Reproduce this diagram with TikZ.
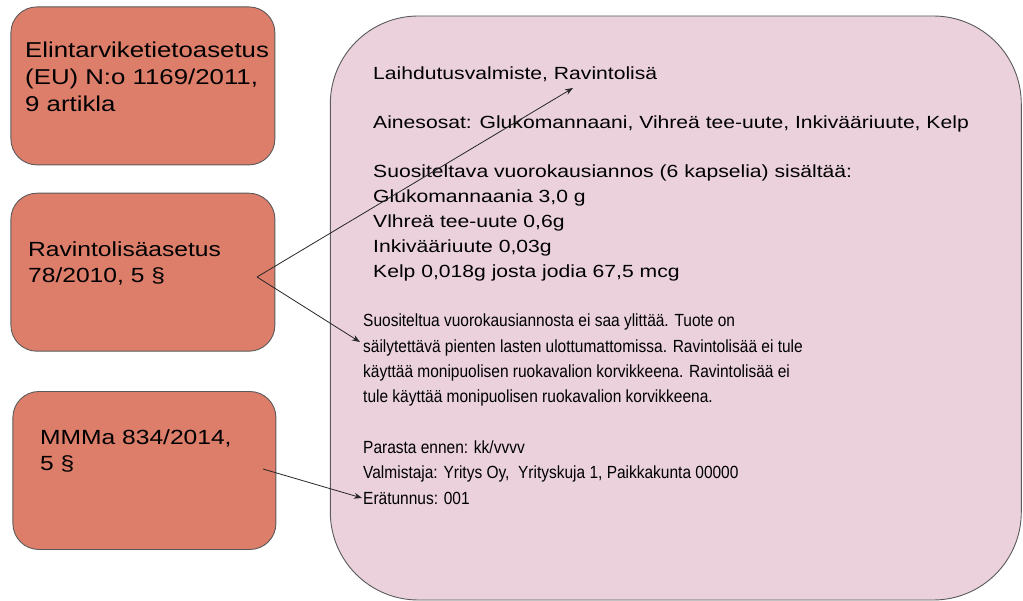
\documentclass[tikz,border=0pt]{standalone}
\usepackage{fontspec}
\setmainfont{Liberation Sans}[FakeStretch=1.2]
\newfontfamily\narrowsans{Liberation Sans}[FakeStretch=0.88]
\usetikzlibrary{arrows.meta}
\definecolor{lawred}{HTML}{DD7E6B}
\definecolor{labelpink}{HTML}{EAD1DC}
\definecolor{edgegray}{HTML}{5A5A5A}
\begin{document}
\begin{tikzpicture}[x=1pt,y=-1pt,
  lawbox/.style={draw=edgegray,fill=lawred,line width=0.9pt,rounded corners=26pt,
    minimum width=264pt,minimum height=158pt,inner sep=0pt},
  lawtext/.style={anchor=base west,align=left,inner sep=0pt,
    font=\fontsize{20.5}{26.5}\selectfont},
  labeltext/.style={anchor=base west,align=left,inner sep=0pt,
    font=\fontsize{17.6}{25.1}\selectfont},
  ref/.style={-{Stealth[length=8pt,width=6pt]},line width=0.8pt,black!85}]
\useasboundingbox (0,0) rectangle (1023,601);
\node[draw=edgegray,fill=labelpink,line width=0.9pt,rounded corners=88pt,
  minimum width=691pt,minimum height=584pt,inner sep=0pt] (label) at (675.8,308) {};
\node[lawbox] (eu) at (142.9,85.9) {};
\node[lawbox] (ravi) at (142.9,272.2) {};
\node[lawbox,minimum width=263pt] (mmm) at (144.4,470.5) {};
% text nodes sit on the baseline of their last line
\node[lawtext,font=\fontsize{21.5}{27}\selectfont] (eu-text) at (25,112)
  {Elintarviketietoasetus\\(EU) N:o 1169/2011,\\9 artikla};
\node[lawtext] (ravi-text) at (28,283) {Ravintolisäasetus\\78/2010, 5 §};
\node[lawtext] (mmm-text) at (40,471) {MMMa 834/2014,\\5 §};
\node[labeltext] (label-top) at (373,278)
  {Laihdutusvalmiste, Ravintolisä\\[24pt]
   Ainesosat: Glukomannaani, Vihreä tee-uute, Inkivääriuute, Kelp\\[24pt]
   Suositeltava vuorokausiannos (6 kapselia) sisältää:\\
   Glukomannaania 3,0 g\\
   Vlhreä tee-uute 0,6g\\
   Inkivääriuute 0,03g\\
   Kelp 0,018g josta jodia 67,5 mcg};
\node[labeltext,font=\fontsize{17.6}{25.1}\narrowsans] (label-bottom) at (363,504)
  {Suositeltua vuorokausiannosta ei saa ylittää. Tuote on\\
   säilytettävä pienten lasten ulottumattomissa. Ravintolisää ei tule\\
   käyttää monipuolisen ruokavalion korvikkeena. Ravintolisää ei\\
   tule käyttää monipuolisen ruokavalion korvikkeena.\\[26.5pt]
   Parasta ennen: kk/vvvv\\
   Valmistaja: Yritys Oy,~ Yrityskuja 1, Paikkakunta 00000\\
   Erätunnus: 001};
\coordinate (ravi-out) at (257,277);
\coordinate (mmm-out) at (263,469);
\coordinate (name-in) at (573,88);
\coordinate (warn-in) at (360,342);
\coordinate (batch-in) at (362,498);
\draw[ref] (ravi-out) -- (name-in);
\draw[ref] (ravi-out) -- (warn-in);
\draw[ref] (mmm-out) -- (batch-in);
\end{tikzpicture}
\end{document}
